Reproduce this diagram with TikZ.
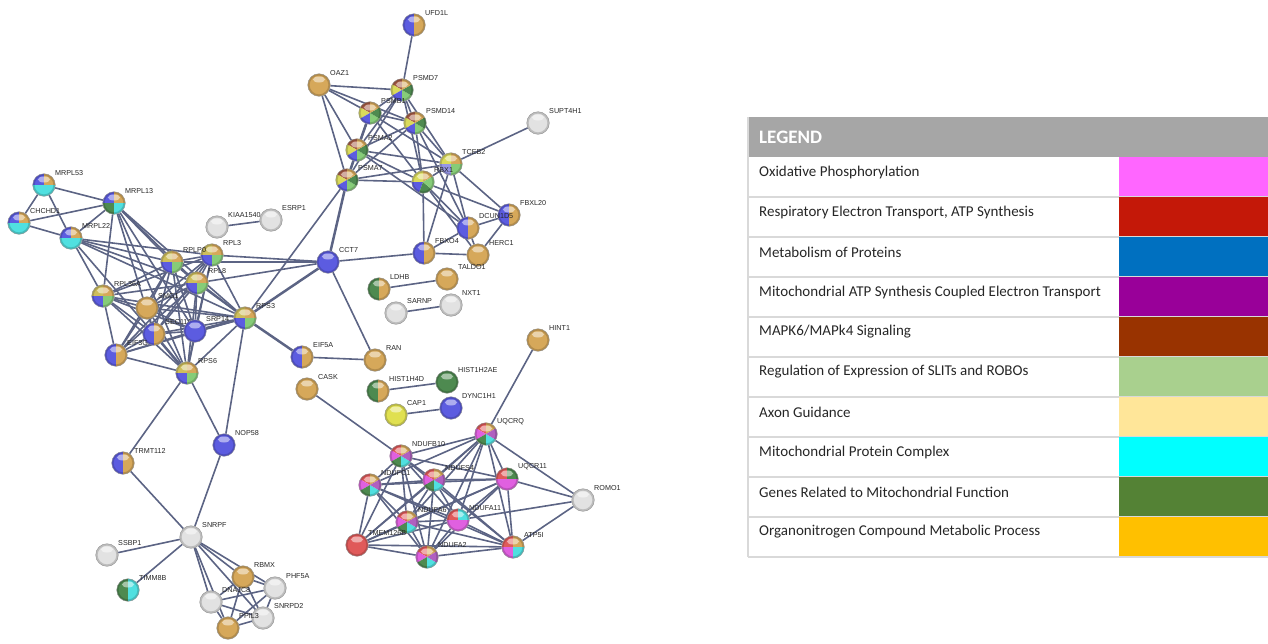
\documentclass[tikz,border=0pt]{standalone}
\usepackage{fontspec}
\setmainfont{Liberation Sans}
\newfontfamily\legfont{Carlito}
\pgfdeclarelayer{bg}
\pgfsetlayers{bg,main}
\definecolor{cOrg}{RGB}{214,168,90}
\definecolor{cYO}{RGB}{206,190,92}
\definecolor{cBlu}{RGB}{92,92,224}
\definecolor{cLav}{RGB}{150,150,232}
\definecolor{cLgr}{RGB}{134,204,120}
\definecolor{cYel}{RGB}{218,218,92}
\definecolor{cYlw}{RGB}{224,224,80}
\definecolor{cBrn}{RGB}{166,92,70}
\definecolor{cCyn}{RGB}{80,224,224}
\definecolor{cMag}{RGB}{224,96,224}
\definecolor{cRed}{RGB}{224,90,90}
\definecolor{cDgr}{RGB}{78,138,80}
\definecolor{cPur}{RGB}{176,96,192}
\definecolor{cGry}{RGB}{226,226,226}
\definecolor{edgecol}{RGB}{92,100,132}
\definecolor{lgHead}{RGB}{166,166,166}
\definecolor{lgLine}{RGB}{217,217,217}
\definecolor{lgText}{RGB}{38,38,38}
\definecolor{sOx}{RGB}{255,102,255}
\definecolor{sResp}{RGB}{196,24,8}
\definecolor{sMet}{RGB}{0,112,192}
\definecolor{sMito}{RGB}{153,0,153}
\definecolor{sMapk}{RGB}{153,51,0}
\definecolor{sSlit}{RGB}{169,208,142}
\definecolor{sAxon}{RGB}{255,230,153}
\definecolor{sCplx}{RGB}{0,255,255}
\definecolor{sGene}{RGB}{84,130,53}
\definecolor{sOrg}{RGB}{255,192,0}
\newcommand{\nodeR}{11.3pt}
\def\BO{90/270/cBlu,-90/90/cOrg}
\def\GO{90/270/cDgr,-90/90/cOrg}
\def\OO{0/360/cOrg}
\def\BB{0/360/cBlu}
\def\GG{0/360/cGry}
\def\RR{0/360/cRed}
\def\YY{0/360/cYlw}
\def\DG{0/360/cDgr}
\def\RIB{0/90/cOrg,90/180/cYO,180/270/cBlu,270/360/cLgr}
\def\MRa{90/180/cBlu,0/90/cOrg,180/360/cCyn}
\def\MRb{90/180/cBlu,0/90/cOrg,180/270/cDgr,270/360/cCyn}
\def\PSM{90/150/cBrn,150/210/cYel,210/270/cBlu,270/330/cLgr,330/390/cDgr,30/90/cOrg}
\def\RBX{30/90/cOrg,90/180/cYel,180/250/cBlu,250/320/cDgr,320/390/cLgr}
\def\TCB{0/90/cOrg,90/180/cYel,180/270/cLav,270/360/cLgr}
\def\MIT{90/150/cRed,30/90/cOrg,150/210/cMag,210/270/cDgr,270/330/cCyn,330/390/cPur}
\def\ATP{90/180/cRed,0/90/cOrg,180/270/cMag,270/360/cCyn}
\def\UQC{90/180/cRed,0/90/cDgr,180/360/cMag}
\def\NDA{90/180/cRed,0/90/cCyn,180/360/cMag}
\def\TIM{90/270/cDgr,-90/90/cCyn}
\newcommand{\pnode}[5]{%
  \node[gn] (#1) at (#2,#3) {};
  \edef\wlist{#4}%
  \foreach \sa/\ea/\cc in \wlist {\fill[\cc] (#1.center) -- ++(\sa:\nodeR) arc[start angle=\sa,end angle=\ea,radius=\nodeR] -- cycle;}
  \draw[black,opacity=.16,line width=1.8pt] (#1.center) circle (10.3pt);
  \fill[white,opacity=.5] ([yshift=5.5pt]#1.center) ellipse (6pt and 3pt);
  \draw[black!45,line width=.4pt] (#1.center) circle (\nodeR);
  \node[lbl,anchor=west] (#1-l) at (#2+11,#3-12) {#5};
}
\newcommand{\clique}[1]{\foreach[count=\i] \a in {#1}{\foreach[count=\j] \b in {#1}{\ifnum\i<\j \draw[edge] (\a)--(\b);\fi}}}
\begin{document}
\begin{tikzpicture}[x=1pt,y=-1pt,
  gn/.style={circle,minimum size=22.6pt,inner sep=0pt},
  lbl/.style={font=\fontsize{7.2}{8}\selectfont,text=black!85,inner sep=0pt},
  edge/.style={draw=edgecol,line width=1.6pt},
  thick edge/.style={draw=edgecol,line width=2.5pt},
  lgtxt/.style={font=\legfont\fontsize{15}{18}\selectfont,text=lgText,anchor=west,inner sep=0pt},
  lghead/.style={font=\legfont\bfseries\fontsize{19}{22}\selectfont,text=white,anchor=west,inner sep=0pt}]
\useasboundingbox (0,0) rectangle (1268,643);
% ---------- nodes ----------
\pnode{UFD1L}{414}{25}{\BO}{UFD1L}
\pnode{OAZ1}{319}{85}{\OO}{OAZ1}
\pnode{PSMD7}{402}{90}{\PSM}{PSMD7}
\pnode{PSMB1}{370}{113}{\PSM}{PSMB1}
\pnode{PSMD14}{415}{123}{\PSM}{PSMD14}
\pnode{PSMA2}{357}{150}{\PSM}{PSMA2}
\pnode{PSMA7}{347}{180}{\PSM}{PSMA7}
\pnode{TCEB2}{451}{164}{\TCB}{TCEB2}
\pnode{RBX1}{423}{182}{\RBX}{RBX1}
\pnode{SUPT4H1}{538}{123}{\GG}{SUPT4H1}
\pnode{FBXL20}{509}{215}{\BO}{FBXL20}
\pnode{DCUN1D5}{468}{228}{\BO}{DCUN1D5}
\pnode{FBXO4}{424}{253}{\BO}{FBXO4}
\pnode{HERC1}{478}{255}{\OO}{HERC1}
\pnode{TALDO1}{447}{279}{\OO}{TALDO1}
\pnode{LDHB}{379}{289}{\GO}{LDHB}
\pnode{NXT1}{451}{305}{\GG}{NXT1}
\pnode{SARNP}{396}{313}{\GG}{SARNP}
\pnode{CCT7}{328}{262}{\BB}{CCT7}
\pnode{KIAA1540}{217}{227}{\GG}{KIAA1540}
\pnode{ESRP1}{271}{220}{\GG}{ESRP1}
\pnode{RPL3}{212}{255}{\RIB}{RPL3}
\pnode{RPLP0}{172}{262}{\RIB}{RPLP0}
\pnode{RPL8}{197}{283}{\RIB}{RPL8}
\pnode{RPL36A}{103}{296}{\RIB}{RPL36A}
\pnode{SMG1}{147}{308}{\OO}{SMG1}
\pnode{SEC11A}{154}{334}{\BO}{SEC11A}
\pnode{SRP14}{195}{331}{\BB}{SRP14}
\pnode{EIF3G}{116}{355}{\BO}{EIF3G}
\pnode{RPS6}{187}{373}{\RIB}{RPS6}
\pnode{RPS3}{245}{318}{\RIB}{RPS3}
\pnode{MRPL53}{44}{185}{\MRa}{MRPL53}
\pnode{MRPL13}{114}{203}{\MRb}{MRPL13}
\pnode{CHCHD1}{19}{223}{\MRa}{CHCHD1}
\pnode{MRPL22}{71}{238}{\MRa}{MRPL22}
\pnode{EIF5A}{302}{357}{\BO}{EIF5A}
\pnode{RAN}{375}{360}{\OO}{RAN}
\pnode{CASK}{307}{389}{\OO}{CASK}
\pnode{HIST1H4D}{378}{391}{\GO}{HIST1H4D}
\pnode{HIST1H2AE}{447}{382}{\DG}{HIST1H2AE}
\pnode{DYNC1H1}{451}{408}{\BB}{DYNC1H1}
\pnode{CAP1}{396}{415}{\YY}{CAP1}
\pnode{HINT1}{538}{340}{\OO}{HINT1}
\pnode{UQCRQ}{486}{434}{\MIT}{UQCRQ}
\pnode{NDUFB10}{401}{456}{\MIT}{NDUFB10}
\pnode{NDUFS4}{434}{480}{\MIT}{NDUFS4}
\pnode{UQCR11}{507}{479}{\UQC}{UQCR11}
\pnode{NDUFC1}{370}{485}{\MIT}{NDUFC1}
\pnode{ROMO1}{583}{500}{\GG}{ROMO1}
\pnode{NDUFA6}{407}{522}{\MIT}{NDUFA6}
\pnode{NDUFA11}{458}{520}{\NDA}{NDUFA11}
\pnode{TMEM126B}{357}{545}{\RR}{TMEM126B}
\pnode{NDUFA2}{427}{557}{\MIT}{NDUFA2}
\pnode{ATP5I}{513}{547}{\ATP}{ATP5I}
\pnode{TRMT112}{123}{463}{\BO}{TRMT112}
\pnode{NOP58}{224}{445}{\BB}{NOP58}
\pnode{SNRPF}{191}{537}{\GG}{SNRPF}
\pnode{SSBP1}{107}{555}{\GG}{SSBP1}
\pnode{TIMM8B}{128}{590}{\TIM}{TIMM8B}
\pnode{RBMX}{243}{577}{\OO}{RBMX}
\pnode{PHF5A}{275}{588}{\GG}{PHF5A}
\pnode{DNAJC8}{211}{602}{\GG}{DNAJC8}
\pnode{SNRPD2}{263}{618}{\GG}{SNRPD2}
\pnode{PPIL3}{228}{628}{\OO}{PPIL3}
% ---------- edges ----------
\begin{pgfonlayer}{bg}
\clique{PSMD7,PSMB1,PSMD14,PSMA2,PSMA7,RBX1,TCEB2}
\clique{MRPL53,MRPL13,CHCHD1,MRPL22}
\clique{RPLP0,RPL3,RPL8,RPL36A,SMG1,SEC11A,SRP14,EIF3G,RPS6,RPS3}
\clique{RBMX,PHF5A,DNAJC8,SNRPD2,PPIL3}
\clique{UQCRQ,NDUFB10,NDUFS4,UQCR11,NDUFC1,NDUFA6,NDUFA11,TMEM126B,NDUFA2,ATP5I}
\foreach \a/\b in {UFD1L/PSMD7,OAZ1/PSMD7,OAZ1/PSMB1,OAZ1/PSMD14,OAZ1/PSMA2,OAZ1/PSMA7,
  TCEB2/SUPT4H1,RBX1/FBXO4,RBX1/DCUN1D5,RBX1/FBXL20,RBX1/HERC1,TCEB2/DCUN1D5,TCEB2/FBXL20,
  TCEB2/FBXO4,DCUN1D5/FBXL20,DCUN1D5/HERC1,DCUN1D5/FBXO4,FBXL20/HERC1,FBXO4/HERC1,
  PSMD14/DCUN1D5,PSMA2/DCUN1D5,CCT7/FBXO4,RPS3/PSMA7,
  MRPL13/RPLP0,MRPL13/RPL8,MRPL13/RPL36A,MRPL13/SEC11A,MRPL13/RPS6,MRPL13/RPS3,MRPL13/SRP14,
  MRPL22/RPLP0,MRPL22/RPL8,MRPL22/RPL3,MRPL22/RPS3,MRPL22/RPL36A,MRPL22/SEC11A,
  CCT7/RPLP0,CCT7/RPL3,CCT7/RPL8,CCT7/RAN,EIF5A/RAN,
  RPS6/TRMT112,RPS6/NOP58,RPS3/NOP58,NOP58/SNRPF,TRMT112/SNRPF,
  SNRPF/SSBP1,SNRPF/TIMM8B,SNRPF/RBMX,SNRPF/PHF5A,SNRPF/DNAJC8,SNRPF/SNRPD2,SNRPF/PPIL3,
  KIAA1540/ESRP1,LDHB/TALDO1,SARNP/NXT1,HIST1H4D/HIST1H2AE,CAP1/DYNC1H1,CASK/NDUFB10,
  HINT1/UQCRQ,ROMO1/UQCRQ,ROMO1/UQCR11,ROMO1/ATP5I,ROMO1/NDUFA11}
  {\draw[edge] (\a)--(\b);}
\foreach \a/\b in {CCT7/PSMA7,CCT7/RPS3,RPS3/EIF5A,PSMB1/PSMA2,PSMA2/PSMA7,RPS3/SRP14,SEC11A/RPS6}
  {\draw[thick edge] (\a)--(\b);}
\end{pgfonlayer}
% ---------- legend ----------
\fill[lgHead] (748,117) rectangle (1268,157);
\node[lghead] (lgh) at (759,137) {LEGEND};
\foreach [count=\k from 0] \t/\c in {{Oxidative Phosphorylation}/sOx,
  {Respiratory Electron Transport, ATP Synthesis}/sResp,
  {Metabolism of Proteins}/sMet,
  {Mitochondrial ATP Synthesis Coupled Electron Transport}/sMito,
  {MAPK6/MAPk4 Signaling}/sMapk,
  {Regulation of Expression of SLITs and ROBOs}/sSlit,
  {Axon Guidance}/sAxon,
  {Mitochondrial Protein Complex}/sCplx,
  {Genes Related to Mitochondrial Function}/sGene,
  {Organonitrogen Compound Metabolic Process}/sOrg}{
  \fill[\c] (1119,157+40*\k) rectangle (1268,197+40*\k);
  \draw[lgLine,line width=1.5pt] (748,197+40*\k) -- (1268,197+40*\k);
  \node[lgtxt] (lg\k) at (759,172+40*\k) {\t};
}
\draw[lgLine,line width=1.5pt] (748,117) -- (748,557);
\end{tikzpicture}
\end{document}
